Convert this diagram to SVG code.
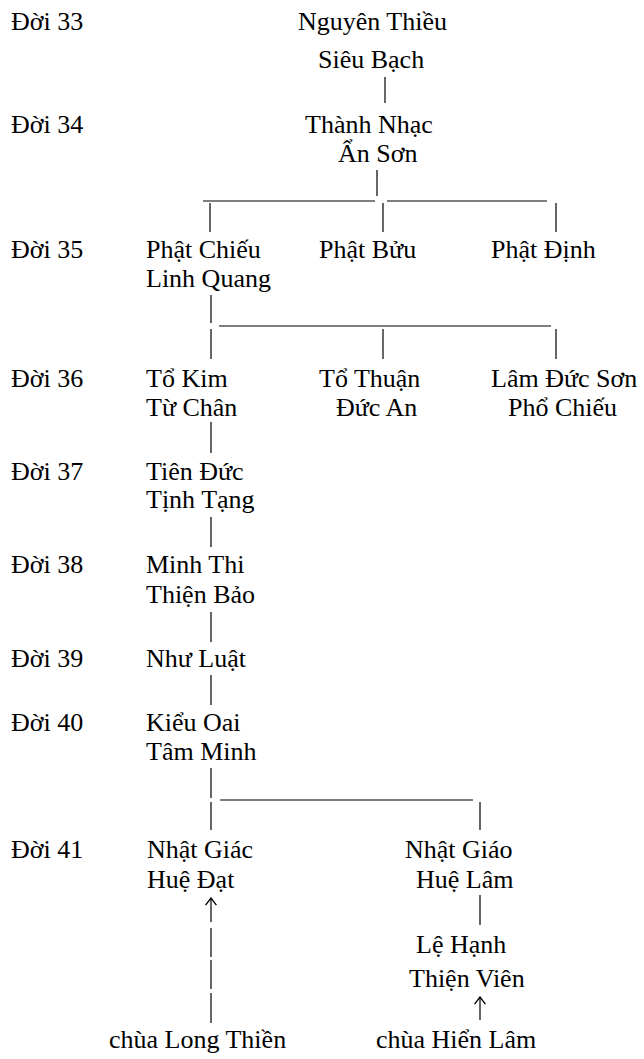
<svg xmlns="http://www.w3.org/2000/svg" width="644" height="1059" viewBox="0 0 644 1059">
<defs>
<marker id="arr" viewBox="0 0 10 10" refX="9" refY="5" markerWidth="12" markerHeight="12" markerUnits="userSpaceOnUse" orient="auto">
<path d="M3,0.5 L9,5 L3,9.5" fill="none" stroke="#000" stroke-width="1.1"/>
</marker>
<style>
text{font-family:"Liberation Serif","Times New Roman",serif;font-size:26px;fill:#000}
.c line{stroke:#000;stroke-width:1.2}
</style>
</defs>
<rect width="644" height="1059" fill="#fff"/>
<g id="gen">
<text x="11" y="30">Đời 33</text>
<text x="11" y="133">Đời 34</text>
<text x="11" y="258">Đời 35</text>
<text x="11" y="387">Đời 36</text>
<text x="11" y="480">Đời 37</text>
<text x="11" y="573">Đời 38</text>
<text x="11" y="667">Đời 39</text>
<text x="11" y="731">Đời 40</text>
<text x="11" y="858">Đời 41</text>
</g>
<g id="n33"><text x="298" y="30">Nguyên Thiều</text><text x="318" y="68">Siêu Bạch</text></g>
<g id="n34"><text x="305" y="133">Thành Nhạc</text><text x="338" y="162">Ẩn Sơn</text></g>
<g id="n35a"><text x="146" y="258">Phật Chiếu</text><text x="146" y="287">Linh Quang</text></g>
<g id="n35b"><text x="319" y="258">Phật Bửu</text></g>
<g id="n35c"><text x="491" y="258">Phật Định</text></g>
<g id="n36a"><text x="146" y="387">Tổ Kim</text><text x="146" y="416">Từ Chân</text></g>
<g id="n36b"><text x="319" y="387">Tổ Thuận</text><text x="336" y="416">Đức An</text></g>
<g id="n36c"><text x="491" y="387">Lâm Đức Sơn</text><text x="508" y="416">Phổ Chiếu</text></g>
<g id="n37"><text x="146" y="480">Tiên Đức</text><text x="146" y="508">Tịnh Tạng</text></g>
<g id="n38"><text x="146" y="573">Minh Thi</text><text x="146" y="603">Thiện Bảo</text></g>
<g id="n39"><text x="146" y="667">Như Luật</text></g>
<g id="n40"><text x="146" y="731">Kiểu Oai</text><text x="146" y="760">Tâm Minh</text></g>
<g id="n41a"><text x="147" y="858">Nhật Giác</text><text x="147" y="888">Huệ Đạt</text></g>
<g id="n41b"><text x="405" y="858">Nhật Giáo</text><text x="416" y="888">Huệ Lâm</text></g>
<g id="n42"><text x="416" y="953">Lệ Hạnh</text><text x="409" y="987">Thiện Viên</text></g>
<g id="t1"><text x="109" y="1048">chùa Long Thiền</text></g>
<g id="t2"><text x="376" y="1048">chùa Hiển Lâm</text></g>
<g class="c" id="connectors">
<line x1="385" y1="77" x2="385" y2="103"/>
<line x1="377" y1="170" x2="377" y2="196"/>
<line x1="203" y1="201" x2="375" y2="201"/>
<line x1="387" y1="201" x2="547" y2="201"/>
<line x1="210" y1="203" x2="210" y2="232"/>
<line x1="383" y1="203" x2="383" y2="232"/>
<line x1="556" y1="203" x2="556" y2="232"/>
<line x1="211" y1="295" x2="211" y2="323"/>
<line x1="219" y1="326" x2="551" y2="326"/>
<line x1="211" y1="329" x2="211" y2="359"/>
<line x1="383" y1="329" x2="383" y2="359"/>
<line x1="556" y1="329" x2="556" y2="359"/>
<line x1="211" y1="422" x2="211" y2="453"/>
<line x1="211" y1="517" x2="211" y2="547"/>
<line x1="211" y1="612" x2="211" y2="642"/>
<line x1="211" y1="675" x2="211" y2="705"/>
<line x1="211" y1="768" x2="211" y2="798"/>
<line x1="220" y1="800" x2="473" y2="800"/>
<line x1="211" y1="802" x2="211" y2="830"/>
<line x1="480" y1="802" x2="480" y2="830"/>
<line x1="211" y1="922" x2="211" y2="898" marker-end="url(#arr)"/>
<line x1="211" y1="928" x2="211" y2="957"/>
<line x1="211" y1="960" x2="211" y2="989"/>
<line x1="211" y1="993" x2="211" y2="1023"/>
<line x1="480" y1="895" x2="480" y2="925"/>
<line x1="480" y1="1020" x2="480" y2="997" marker-end="url(#arr)"/>
</g>
</svg>
